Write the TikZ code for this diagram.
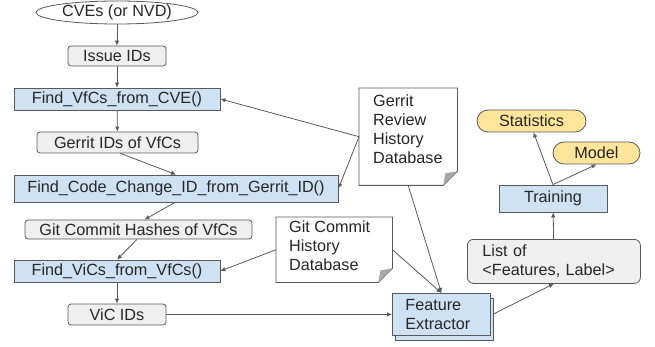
\documentclass[tikz,border=0pt]{standalone}
\usepackage{fontspec}
\setmainfont{Liberation Sans}
\usepackage{xcolor}
\usetikzlibrary{arrows.meta, shapes.geometric, shadows}

\definecolor{procblue}{HTML}{CFE2F3}
\definecolor{datagray}{HTML}{EFEFEF}
\definecolor{outyellow}{HTML}{FFE599}
\definecolor{edgegray}{HTML}{595959}
\definecolor{foldgray}{HTML}{A6A6A6}

% outline of a page with a folded corner, round a named node
\newcommand{\docframe}[1]{%
  \draw[edgegray, line width=0.8pt, fill=white] (#1.north west) -- (#1.north east)
    -- ([yshift=14pt]#1.south east) -- ([xshift=-14pt]#1.south east) -- (#1.south west) -- cycle;
  \fill[foldgray] ([yshift=14pt]#1.south east) -- ([xshift=-14pt]#1.south east)
    -- ([xshift=-12pt, yshift=12pt]#1.south east) -- cycle;
}

\begin{document}
\begin{tikzpicture}[x=1pt, y=-1pt,
        font=\fontsize{16.2}{19}\selectfont,
        every node/.style={text=black!85},
        box/.style={draw=edgegray, line width=0.8pt, inner sep=0pt},
        proc/.style={box, fill=procblue},
        data/.style={box, fill=datagray, rounded corners=3pt},
        result/.style={box, fill=outyellow, rounded corners=11pt},
        source/.style={box, ellipse, fill=white},
        doctext/.style={inner sep=0pt, align=left},
        link/.style={draw=edgegray, line width=0.8pt, -{Latex[length=5pt, width=4.5pt]}}]
        \useasboundingbox (0,0) rectangle (655,347);

        % Left column
        \node[source, minimum width=162pt, minimum height=23pt] (cve) at (117,12.5) {CVEs (or NVD)};
        \node[data, minimum width=98pt, minimum height=20pt] (issue) at (117,56) {Issue IDs};
        \node[proc, minimum width=206pt, minimum height=22pt] (findvfc) at (117,99) {Find\_VfCs\_from\_CVE()};
        \node[data, minimum width=161pt, minimum height=21pt] (gerritid) at (117.5,142.5) {Gerrit IDs of VfCs};
        \node[proc, minimum width=324pt, minimum height=27pt] (findcc) at (176,188.5) {Find\_Code\_Change\_ID\_from\_Gerrit\_ID()};
        \node[data, minimum width=227pt, minimum height=19pt] (hashes) at (138.5,229.5) {Git Commit Hashes of VfCs};
        \node[proc, minimum width=206pt, minimum height=22pt] (findvic) at (117,271) {Find\_ViCs\_from\_VfCs()};
        \node[data, minimum width=98pt, minimum height=21pt] (vicid) at (117,314.5) {ViC IDs};

        % Databases
        \node[inner sep=0pt, minimum width=98pt, minimum height=97pt, anchor=north west] (gerritdb) at (359,88) {};
        \docframe{gerritdb}
        \node[doctext, anchor=base west] (gerrittxt) at ([xshift=14pt, yshift=-76pt]gerritdb.north west) {Gerrit\\Review\\History\\Database};
        \node[inner sep=0pt, minimum width=116pt, minimum height=65pt, anchor=north west] (gitdb) at (276,217) {};
        \docframe{gitdb}
        \node[doctext, anchor=base west] (gittxt) at ([xshift=13pt, yshift=-53pt]gitdb.north west) {Git Commit\\History\\Database};

        % Right part
        \node[proc, copy shadow={shadow xshift=3pt, shadow yshift=-5pt}, minimum width=98pt, minimum height=42pt,
              text width=72pt, align=left, anchor=north west] (feat) at (392,293) {Feature\\Extractor};
        \node[data, rounded corners=6pt, minimum width=173pt, minimum height=44pt, text width=143pt, align=left,
              anchor=north west] (list) at (467,239) {List of\\<Features, Label>};
        \node[proc, minimum width=108pt, minimum height=27pt] (train) at (553,198.5) {Training};
        \node[result, minimum width=109pt, minimum height=22pt] (stats) at (531.5,121) {Statistics};
        \node[result, minimum width=87pt, minimum height=22pt] (model) at (596.5,153) {Model};

        % Connectors
        \draw[link] (cve) -- (issue);
        \draw[link] (issue) -- (findvfc);
        \draw[link] (findvfc) -- (gerritid);
        \draw[link] ([xshift=3pt]gerritid.south) -- (findcc.north);
        \draw[link] ([xshift=-1pt]findcc.south) -- ([xshift=6pt]hashes.north);
        \draw[link] ([xshift=-1.5pt]hashes.south) -- (findvic.north);
        \draw[link] (findvic) -- (vicid);
        \draw[link] (vicid.east) -- (feat.west);
        \draw[link] (gerritdb.west) -- (findvfc.east);
        \draw[link] (gerritdb.west) -- (findcc.east);
        \draw[link] (gerritdb.south) -- (feat.north);
        \draw[link] (gitdb.west) -- (findvic.east);
        \draw[link] (gitdb.east) -- (feat.north);
        \draw[link] ([xshift=2pt]feat.east) -- (list.south);
        \draw[link] (list) -- (train);
        \draw[link] (train.north) -- ([xshift=2pt]stats.south);
        \draw[link] (train.north) -- (model.south);
\end{tikzpicture}
\end{document}
